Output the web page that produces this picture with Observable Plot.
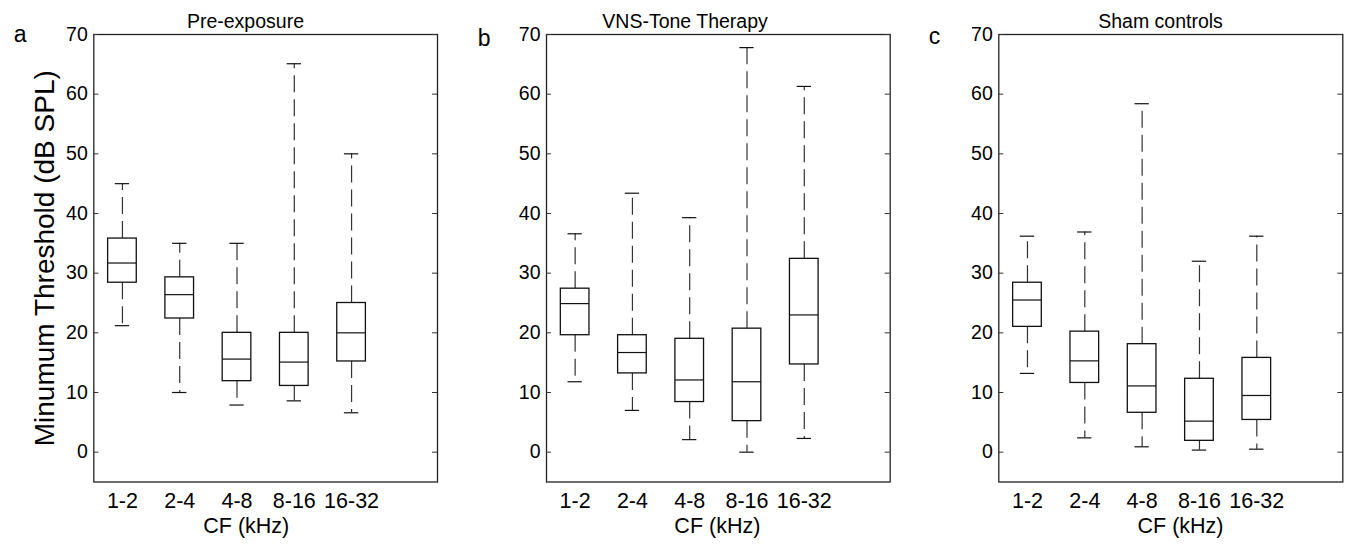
<!DOCTYPE html>
<html>
<head>
<meta charset="utf-8">
<script src="https://cdn.jsdelivr.net/npm/d3@7"></script>
<script src="https://cdn.jsdelivr.net/npm/@observablehq/plot@0.6"></script>
<style>
html, body { margin: 0; padding: 0; background: #fff; }
#fig { position: relative; width: 1348px; height: 544px; overflow: hidden; background: #fff; }
#fig > div { position: absolute; top: 0; }
</style>
</head>
<body>
<div id="fig"></div>
<script>
// ---- data ----
const categories = ["1-2", "2-4", "4-8", "8-16", "16-32"];
const yTicks = [0, 10, 20, 30, 40, 50, 60, 70];
const panelTitles = ["Pre-exposure", "VNS-Tone Therapy", "Sham controls"];
const panelLetters = ["a", "b", "c"];
const yLabel = "Minumum Threshold (dB SPL)";
const xLabel = "CF (kHz)";

// Pre-exposure
const preMin = [21.2, 10.0, 7.9, 8.6, 6.6];
const preQ1  = [28.4, 22.4, 11.9, 11.1, 15.2];
const preMed = [31.7, 26.4, 15.6, 15.1, 20.0];
const preQ3  = [35.8, 29.3, 20.0, 20.0, 25.0];
const preMax = [45.0, 35.0, 35.0, 65.1, 50.0];

// VNS-Tone Therapy
const vnsMin = [11.8, 7.0, 2.1, 0.0, 2.3];
const vnsQ1  = [19.6, 13.2, 8.4, 5.2, 14.7];
const vnsMed = [24.9, 16.7, 12.1, 11.8, 23.0];
const vnsQ3  = [27.4, 19.6, 19.0, 20.7, 32.4];
const vnsMax = [36.6, 43.4, 39.3, 67.8, 61.3];

// Sham controls
const shamMin = [13.2, 2.4, 0.9, 0.35, 0.5];
const shamQ1  = [21.0, 11.6, 6.6, 1.9, 5.4];
const shamMed = [25.5, 15.3, 11.1, 5.2, 9.5];
const shamQ3  = [28.4, 20.2, 18.1, 12.3, 15.8];
const shamMax = [36.2, 36.9, 58.4, 32.0, 36.2];

const series = [
  {min: preMin, q1: preQ1, med: preMed, q3: preQ3, max: preMax},
  {min: vnsMin, q1: vnsQ1, med: vnsMed, q3: vnsQ3, max: vnsMax},
  {min: shamMin, q1: shamQ1, med: shamMed, q3: shamQ3, max: shamMax}
];

// ---- layout (pixels) ----
const layout = [
  {left: 0,   width: 450, ml: 93.3, mr: 13,   titleDx: -20.2, xlabDx: -19.4, letterDx: -80,   letterBase: 41,   yLab: true},
  {left: 455, width: 450, ml: 91,   mr: 15.3, titleDx: -33.3, xlabDx: -1,    letterDx: -68.7, letterBase: 45.5, yLab: false},
  {left: 905, width: 443, ml: 93.3, mr: 5.7,  titleDx: -10.3, xlabDx: 9.7,   letterDx: -70,   letterBase: 43,   yLab: false}
];
const H = 544, MT = 34, MB = 62.5;
const FONT = "'Liberation Sans', Arial, Helvetica, sans-serif";

const fig = document.getElementById("fig");

series.forEach((s, k) => {
  const L = layout[k];
  const frameW = L.width - L.ml - L.mr;
  const rows = categories.map((c, i) => ({
    pos: i + 1, cat: c, min: s.min[i], q1: s.q1[i], med: s.med[i], q3: s.q3[i], max: s.max[i]
  }));

  const marks = [
    Plot.frame({stroke: "#222", strokeWidth: 1.3}),
    // inward ticks, left and right
    Plot.ruleY(yTicks, {y: d => d, insetRight: frameW - 5, stroke: "#333"}),
    Plot.ruleY(yTicks, {y: d => d, insetLeft: frameW - 5, stroke: "#333"}),
    Plot.axisY(yTicks, {tickSize: 0, tickPadding: 6, fontSize: 19.5, label: null, fill: "#000"}),
    Plot.axisX([1, 2, 3, 4, 5], {tickSize: 0, tickPadding: 11, fontSize: 21.5, label: null, fill: "#000",
      tickFormat: i => categories[i - 1]}),
    // whiskers
    Plot.ruleX(rows, {x: "pos", y1: "q3", y2: "max", stroke: "#333", strokeWidth: 1.2, strokeDasharray: "17,7"}),
    Plot.ruleX(rows, {x: "pos", y1: "q1", y2: "min", stroke: "#333", strokeWidth: 1.2, strokeDasharray: "17,7"}),
    // caps
    Plot.ruleY(rows, {y: "max", x1: d => d.pos - 0.125, x2: d => d.pos + 0.125, stroke: "#111", strokeWidth: 1.2}),
    Plot.ruleY(rows, {y: "min", x1: d => d.pos - 0.125, x2: d => d.pos + 0.125, stroke: "#111", strokeWidth: 1.2}),
    // boxes
    Plot.rect(rows, {x1: d => d.pos - 0.25, x2: d => d.pos + 0.25, y1: "q1", y2: "q3",
      fill: "none", stroke: "#111", strokeWidth: 1.3}),
    // medians
    Plot.ruleY(rows, {y: "med", x1: d => d.pos - 0.25, x2: d => d.pos + 0.25, stroke: "#111", strokeWidth: 1.2}),
    // title
    Plot.text([panelTitles[k]], {text: d => d, frameAnchor: "top", dx: L.titleDx, dy: -6.3,
      lineAnchor: "bottom", textAnchor: "middle", fontSize: 19.5, fill: "#000"}),
    // panel letter
    Plot.text([panelLetters[k]], {text: d => d, frameAnchor: "top-left", dx: L.letterDx, dy: L.letterBase - MT,
      lineAnchor: "bottom", textAnchor: "start", fontSize: 23, fill: "#000"}),
    // x label
    Plot.text([xLabel], {text: d => d, frameAnchor: "bottom", dx: L.xlabDx, dy: 50.5,
      lineAnchor: "bottom", textAnchor: "middle", fontSize: 21.5, fill: "#000"})
  ];
  if (L.yLab) {
    marks.push(Plot.text([yLabel], {text: d => d, frameAnchor: "left", dx: 53.3 - L.ml, rotate: -90,
      lineAnchor: "bottom", textAnchor: "middle", fontSize: 28, fill: "#000"}));
  }

  const chart = Plot.plot({
    width: L.width,
    height: H,
    marginLeft: L.ml,
    marginRight: L.mr,
    marginTop: MT,
    marginBottom: MB,
    x: {type: "linear", domain: [0.5, 6.5]},
    y: {type: "linear", domain: [-5, 70]},
    style: {fontFamily: FONT, background: "transparent", color: "#000", overflow: "visible"},
    marks
  });
  const wrap = document.createElement("div");
  wrap.style.left = L.left + "px";
  wrap.appendChild(chart);
  fig.appendChild(wrap);
});
</script>
</body>
</html>
